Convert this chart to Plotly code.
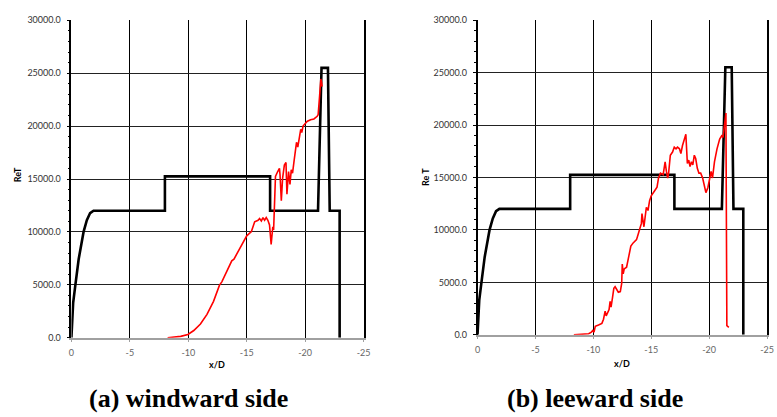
import plotly.graph_objects as go

W, H = 777, 417

# ---------------- data ----------------
# black step profile (same on both sides)
black_x = [0, -0.06, -0.15, -0.34, -0.62, -1.04, -1.32, -1.6, -1.89, -8.0, -8.0, -17.0, -17.0,
           -21.1, -21.4, -21.95, -22.1, -22.95, -22.95]
black_y = [0, 1900, 3300, 5000, 7420, 10000, 11100, 11780, 12000, 12000, 15250, 15250, 12000,
           12000, 25500, 25500, 12000, 12000, 0]

# windward side red curve
windward_x = [-8.23, -9.35, -9.97, -10.47, -11.04, -11.6, -12.16, -12.67, -12.87, -13.3, -13.72,
              -13.91, -14.27, -14.84, -15.0, -15.4, -15.68, -15.97, -16.1, -16.25, -16.39, -16.53,
              -16.67, -16.81, -16.95, -17.09, -17.23, -17.3, -17.46, -17.65, -17.8, -17.85, -17.96,
              -18.07, -18.22, -18.36, -18.44, -18.58, -18.7, -18.81, -18.92, -19.06, -19.15, -19.26,
              -19.37, -19.48, -19.62, -19.71, -19.82, -19.99, -20.19, -20.47, -20.75, -21.03,
              -21.11, -21.23, -21.34, -21.4, -21.45]
windward_y = [0, 130, 310, 680, 1290, 2210, 3440, 4970, 5280, 6350, 7270,
              7430, 8190, 9270, 9630, 10030, 10950, 11100, 11260, 11040, 11350, 11100,
              11350, 11100, 10650, 8810, 10490, 10190, 15250, 15710, 16010, 15400, 12950,
              15090, 16320, 16560, 13560, 15710, 14480, 15860, 15550, 16780, 17700, 18470,
              18010, 18930, 19700, 19390, 20010, 20220, 20460, 20610, 20680, 20930,
              21070, 22770, 24450, 24150, 23740]

# leeward side red curve
leeward_x = [-8.32, -9.04, -9.6, -9.83, -9.94, -10.06, -10.17, -10.45, -10.74, -10.88, -11.02,
             -11.11, -11.25, -11.36, -11.45, -11.53, -11.65, -11.77, -11.88, -12.02, -12.16,
             -12.33, -12.45, -12.5, -12.58, -12.67, -12.87, -13.07, -13.24, -13.44, -13.73,
             -13.86, -14.01, -14.15, -14.2, -14.37, -14.58, -14.72, -14.86, -15.0, -15.28, -15.5,
             -15.63, -15.8, -16.03, -16.2, -16.31, -16.42, -16.5, -16.65, -16.84, -16.99, -17.14,
             -17.27, -17.44, -17.56, -17.7, -17.84, -17.99, -18.12, -18.24, -18.35, -18.47,
             -18.59, -18.72, -18.84, -18.98, -19.12, -19.27, -19.44, -19.61, -19.72, -19.89,
             -20.06, -20.17, -20.29, -20.46, -20.68, -20.91, -21.08, -21.2, -21.45, -21.53, -21.7]
leeward_y = [0, 40, 100, 250, 410, 250, 810, 930, 1090, 1490, 2260,
             1800, 2110, 2410, 3190, 2640, 3500, 4430, 4580, 4270, 4060,
             4120, 4890, 6750, 5820, 6280, 6440, 7520, 8450, 8760, 9070,
             9530, 10150, 10620, 11550, 10300, 12160, 11850, 12780, 13250, 13710, 14080,
             14950, 15410, 15260, 16490, 15570, 14950, 15410, 17120, 17420, 17890, 17730,
             17890, 17730, 17270, 18040, 18510, 19120, 16340, 16650, 16030, 16490,
             16190, 17120, 16800, 15870, 15410, 15410, 14950, 14020, 13550, 14020,
             14950, 15570, 14950, 16490, 17730, 18660, 18970, 18820, 21140, 870, 710]

x_tickvals = [0, -5, -10, -15, -20, -25]
x_ticktext = ["0", "-5", "-10", "-15", "-20", "-25"]
y_tickvals = [0, 5000, 10000, 15000, 20000, 25000, 30000]

panel_titles = ["(a) windward side", "(b) leeward side"]
y_titles = ["ReT", "Re T"]
x_title = "x/D"

# ---------------- figure ----------------
fig = go.Figure()

def px2fx(p):
    return p / W

def py2fy(p):
    return 1 - p / H

panels = [
    dict(xd=[px2fx(69.3), px2fx(365.3)], yd=[py2fy(340.7), py2fy(14.7)], red=(windward_x, windward_y),
         ax="x", ay="y", ytx=15, yty=173, xtx=217, xty=368, tx=188, ty=403),
    dict(xd=[px2fx(480.7), px2fx(774.0)], yd=[py2fy(337.7), py2fy(14.5)], red=(leeward_x, leeward_y),
         ax="x2", ay="y2", ytx=428, yty=175, xtx=627, xty=367, tx=600, ty=403),
]

tickfont = dict(family="Lato, Carlito, Open Sans, sans-serif", size=9, color="#333333")
xtickfont = dict(family="Lato, Carlito, Open Sans, sans-serif", size=9, color="#666666")

for i, p in enumerate(panels):
    fig.add_trace(go.Scatter(x=black_x, y=black_y, mode="lines", xaxis=p["ax"], yaxis=p["ay"],
                             line=dict(color="black", width=2.6), showlegend=False, hoverinfo="skip"))
    fig.add_trace(go.Scatter(x=p["red"][0], y=p["red"][1], mode="lines", xaxis=p["ax"], yaxis=p["ay"],
                             line=dict(color="#ff0000", width=1.6), showlegend=False, hoverinfo="skip"))
    xk = "xaxis" if i == 0 else "xaxis2"
    yk = "yaxis" if i == 0 else "yaxis2"
    fig.layout[xk] = dict(
        domain=p["xd"], anchor=p["ay"], range=[0, -25], tickvals=x_tickvals, ticktext=x_ticktext,
        showgrid=True, gridcolor="black", gridwidth=1, zeroline=False,
        showline=True, linecolor="#a0a0a0", linewidth=2,
        ticks="outside", ticklen=2, tickcolor="#a0a0a0", tickfont=xtickfont,
        ticklabelstandoff=3, fixedrange=True,
    )
    fig.layout[yk] = dict(
        domain=p["yd"], anchor=p["ax"], range=[0, 30000], tickvals=y_tickvals, tickformat=".1f",
        showgrid=True, gridcolor="#222222", gridwidth=1.2, zeroline=False,
        showline=True, mirror=True, linecolor="black", linewidth=1.5,
        ticks="outside", ticklen=3, tickcolor="black", tickfont=tickfont,
        minor=dict(dtick=1000, ticks="outside", ticklen=2, tickcolor="black", showgrid=False),
        ticklabelstandoff=4, fixedrange=True,
    )
    fig.add_annotation(x=px2fx(p["ytx"]), y=py2fy(p["yty"]), xref="paper", yref="paper",
                       text="<b>%s</b>" % y_titles[i], showarrow=False, textangle=-90,
                       font=dict(family="Lato, Carlito, sans-serif", size=9, color="black"),
                       xanchor="center", yanchor="middle")
    fig.add_annotation(x=px2fx(p["xtx"]), y=py2fy(p["xty"]), xref="paper", yref="paper",
                       text="<b>%s</b>" % x_title, showarrow=False,
                       font=dict(family="Lato, Carlito, sans-serif", size=9, color="black"),
                       xanchor="center", yanchor="middle")
    fig.add_annotation(x=px2fx(p["tx"]), y=py2fy(p["ty"]), xref="paper", yref="paper",
                       text="<b>%s</b>" % panel_titles[i], showarrow=False,
                       font=dict(family="Liberation Serif, Times New Roman, serif", size=26, color="black"),
                       xanchor="center", yanchor="middle")

fig.update_layout(width=W, height=H, margin=dict(l=0, r=0, t=0, b=0),
                  paper_bgcolor="white", plot_bgcolor="white")

fig.write_html("out.html", config={"displayModeBar": False})
